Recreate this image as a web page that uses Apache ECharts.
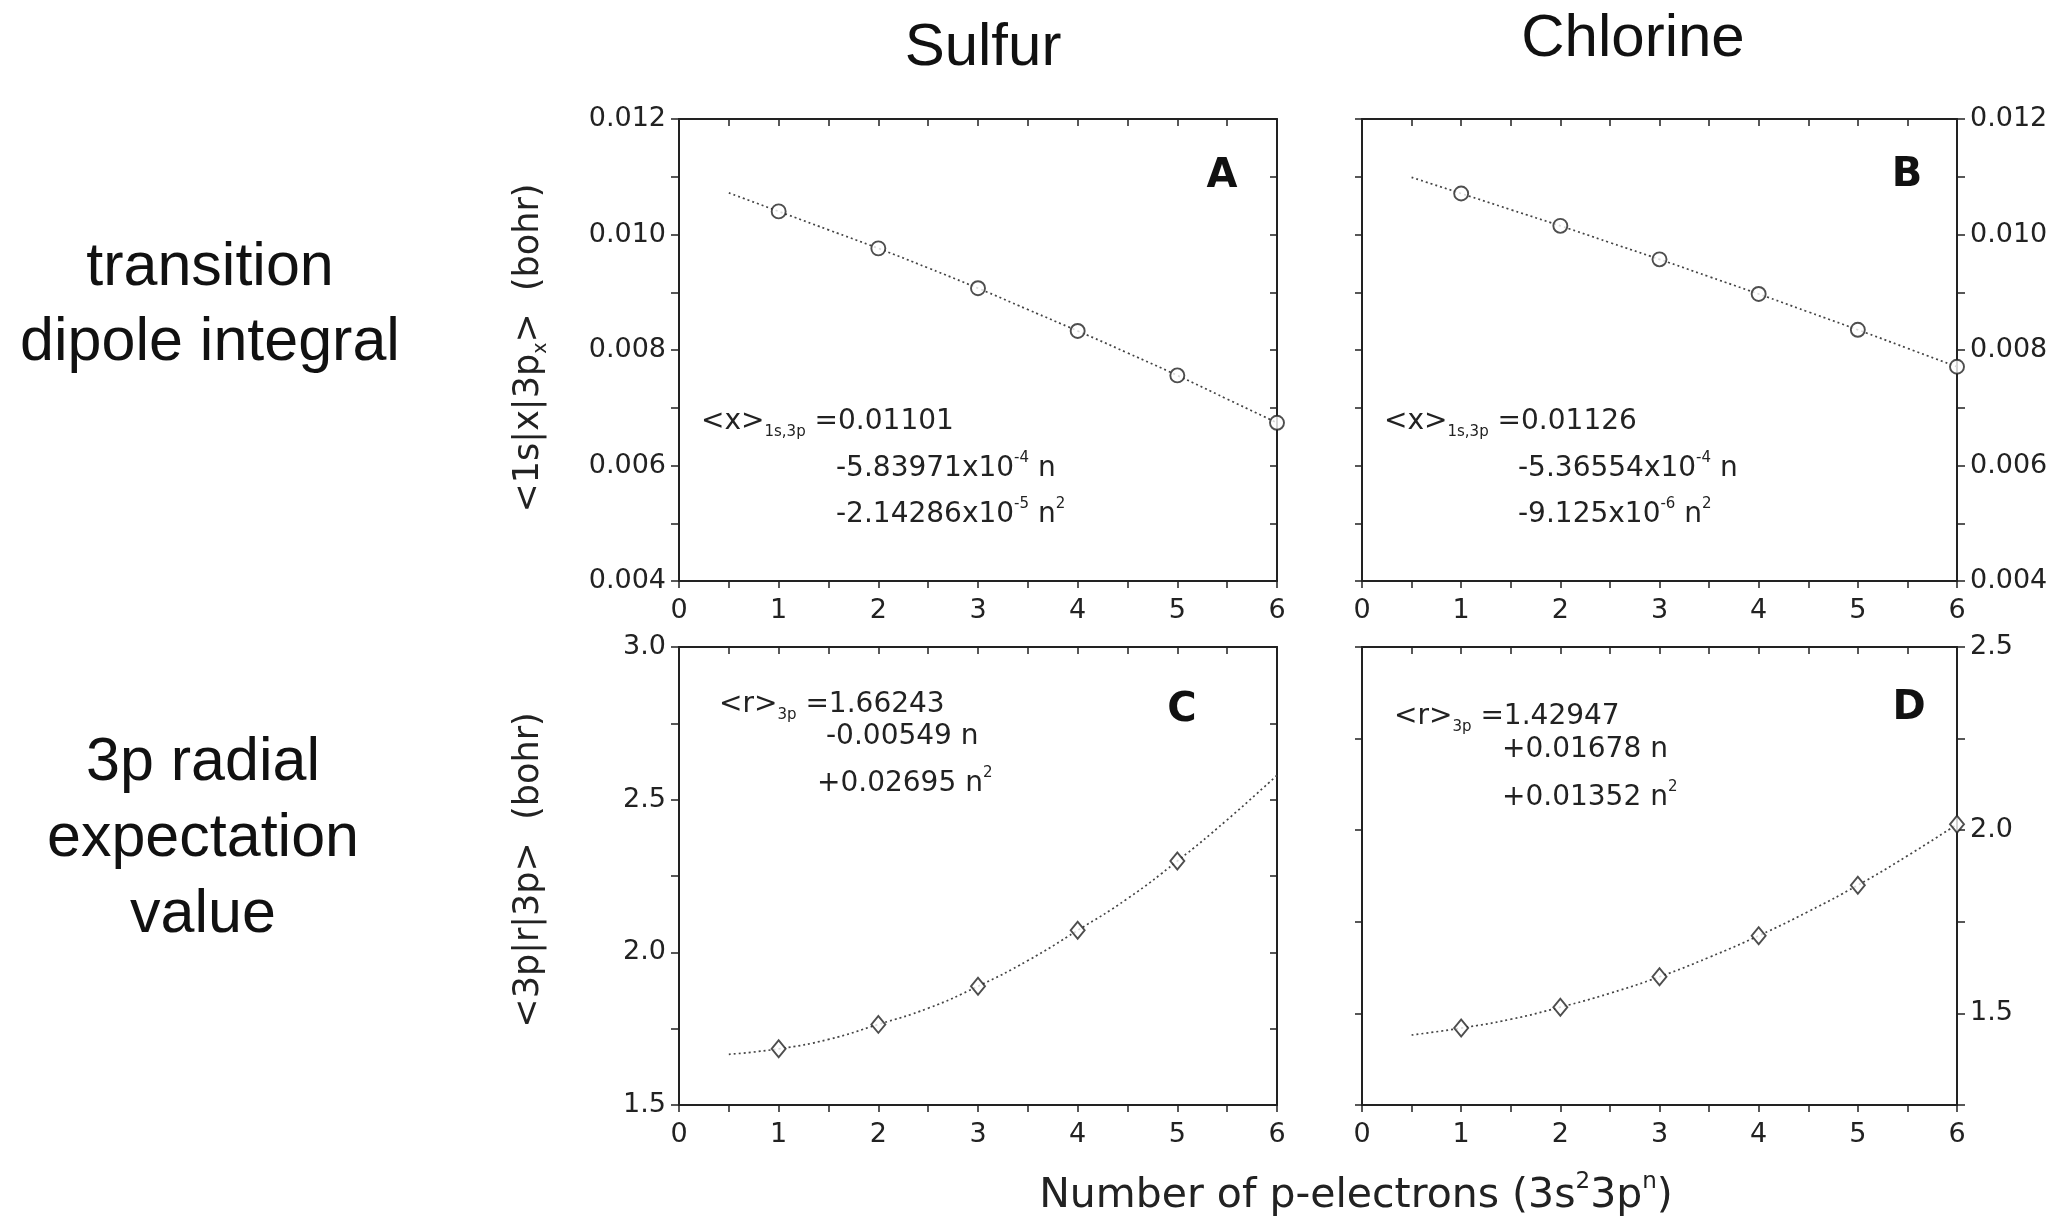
<!DOCTYPE html>
<html>
<head>
<meta charset="utf-8">
<script src="https://cdn.jsdelivr.net/npm/echarts@6/dist/echarts.min.js"></script>
<style>
html, body { margin: 0; padding: 0; background: #fff; }
#main { width: 2055px; height: 1226px; }
</style>
</head>
<body>
<div id="main"></div>
<script>
// values
var nPoints = [1, 2, 3, 4, 5, 6];
var nFit = [0.5, 1, 1.5, 2, 2.5, 3, 3.5, 4, 4.5, 5, 5.5, 6];

var sulfurDipole = [0.01040, 0.00976, 0.00907, 0.00833, 0.00756, 0.00674];
var sulfurDipoleFit = [0.01072, 0.01040, 0.01008, 0.00976, 0.00942, 0.00907, 0.00870, 0.00833, 0.00795, 0.00756, 0.00715, 0.00674];
var chlorineDipole = [0.01071, 0.01015, 0.00957, 0.00897, 0.00835, 0.00771];
var chlorineDipoleFit = [0.01099, 0.01071, 0.01043, 0.01015, 0.00986, 0.00957, 0.00927, 0.00897, 0.00866, 0.00835, 0.00803, 0.00771];
var sulfurRadial = [1.684, 1.764, 1.889, 2.072, 2.299];
var sulfurRadialFit = [1.666, 1.684, 1.715, 1.764, 1.817, 1.889, 1.973, 2.072, 2.176, 2.299, 2.434, 2.580];
var chlorineRadial = [1.460, 1.517, 1.600, 1.712, 1.850, 2.016];
var chlorineRadialFit = [1.441, 1.460, 1.484, 1.517, 1.555, 1.600, 1.653, 1.712, 1.778, 1.850, 1.930, 2.016];

var xTickLabels = ['0', '1', '2', '3', '4', '5', '6'];
var dipoleTickLabels = ['0.004', '0.006', '0.008', '0.010', '0.012'];
var radialTickLabelsS = ['1.5', '2.0', '2.5', '3.0'];
var radialTickLabelsCl = ['1.5', '2.0', '2.5'];

var ink = '#222';
var tickFont = 'DejaVu Sans';

var grids = [
    { left: 679, top: 119, width: 598, height: 462 },
    { left: 1362, top: 119, width: 595, height: 462 },
    { left: 679, top: 647, width: 598, height: 458 },
    { left: 1362, top: 647, width: 595, height: 458 }
];

var yRanges = [
    { min: 0.004, max: 0.012, interval: 0.001, digits: 3, labels: dipoleTickLabels, pos: 'left' },
    { min: 0.004, max: 0.012, interval: 0.001, digits: 3, labels: dipoleTickLabels, pos: 'right' },
    { min: 1.5, max: 3.0, interval: 0.25, digits: 1, labels: radialTickLabelsS, pos: 'left' },
    { min: 1.25, max: 2.5, interval: 0.25, digits: 1, labels: radialTickLabelsCl, pos: 'right' }
];

function pairs(xs, ys) {
    return ys.map(function (y, i) { return [xs[i], y]; });
}

var axisLine = { onZero: false, lineStyle: { color: ink, width: 2 } };

var xAxes = [];
var yAxes = [];
grids.forEach(function (g, i) {
    xAxes.push({
        gridIndex: i, type: 'value', min: 0, max: 6, interval: 0.5, position: 'bottom',
        axisLine: axisLine,
        axisTick: { length: 7, lineStyle: { color: ink, width: 1.5 } },
        axisLabel: {
            margin: 16, fontFamily: tickFont, fontSize: 27, color: ink,
            formatter: function (v) {
                var s = String(v);
                return xTickLabels.indexOf(s) >= 0 ? s : '';
            }
        },
        splitLine: { show: false }
    });
});
grids.forEach(function (g, i) {
    xAxes.push({
        gridIndex: i, type: 'value', min: 0, max: 6, interval: 0.5, position: 'top',
        axisLine: axisLine,
        axisTick: { inside: true, length: 7, lineStyle: { color: ink, width: 1.5 } },
        axisLabel: { show: false },
        splitLine: { show: false }
    });
});
yRanges.forEach(function (r, i) {
    yAxes.push({
        gridIndex: i, type: 'value', min: r.min, max: r.max, interval: r.interval, position: r.pos,
        axisLine: axisLine,
        axisTick: { length: 8, lineStyle: { color: ink, width: 1.5 } },
        axisLabel: {
            margin: 13, fontFamily: tickFont, fontSize: 27, color: ink,
            formatter: function (v) {
                var s = Number(v).toFixed(r.digits);
                return r.labels.indexOf(s) >= 0 ? s : '';
            }
        },
        splitLine: { show: false }
    });
});
yRanges.forEach(function (r, i) {
    yAxes.push({
        gridIndex: i, type: 'value', min: r.min, max: r.max, interval: r.interval,
        position: r.pos === 'left' ? 'right' : 'left',
        axisLine: axisLine,
        axisTick: { inside: r.pos === 'left', length: 7, lineStyle: { color: ink, width: 1.5 } },
        axisLabel: { show: false },
        splitLine: { show: false }
    });
});

function fitSeries(i, ys) {
    return {
        type: 'line', xAxisIndex: i, yAxisIndex: i, smooth: true, showSymbol: false,
        data: pairs(nFit, ys),
        lineStyle: { color: '#444', width: 1.7, type: [2, 3] },
        silent: true, z: 2
    };
}
function pointSeries(i, ys, symbol, size) {
    return {
        type: 'scatter', xAxisIndex: i, yAxisIndex: i, symbol: symbol, symbolSize: size,
        data: pairs(nPoints, ys), clip: false,
        itemStyle: { color: '#fff', borderColor: ink, borderWidth: 1.9 },
        z: 3
    };
}

var series = [
    fitSeries(0, sulfurDipoleFit), pointSeries(0, sulfurDipole, 'circle', 14),
    fitSeries(1, chlorineDipoleFit), pointSeries(1, chlorineDipole, 'circle', 14),
    fitSeries(2, sulfurRadialFit), pointSeries(2, sulfurRadial, 'diamond', [14, 17]),
    fitSeries(3, chlorineRadialFit), pointSeries(3, chlorineRadial, 'diamond', [14, 17])
];

var eqRich = {
    m: { fontFamily: tickFont, fontSize: 28, lineHeight: 36, fill: ink },
    sub: { fontFamily: tickFont, fontSize: 15, lineHeight: 15, fill: ink, verticalAlign: 'bottom' },
    sup: { fontFamily: tickFont, fontSize: 15, lineHeight: 15, fill: ink, verticalAlign: 'top' }
};

function eq(x, y, text) {
    return {
        type: 'text', x: x, y: y,
        style: { text: text, rich: eqRich, textAlign: 'left', textVerticalAlign: 'middle' }
    };
}
function plain(x, y, text, size, family, weight, lineHeight) {
    return {
        type: 'text', x: x, y: y,
        style: {
            text: text, fill: '#111', fontSize: size, fontFamily: family, fontWeight: weight || 'normal',
            lineHeight: lineHeight || size, textAlign: 'center', textVerticalAlign: 'middle'
        }
    };
}

function nameRich(size) {
    var small = Math.round(size * 0.55);
    return {
        m: { fontFamily: tickFont, fontSize: size, lineHeight: size + 9, fill: ink },
        sub: { fontFamily: tickFont, fontSize: small, lineHeight: small, fill: ink, verticalAlign: 'bottom' },
        sup: { fontFamily: tickFont, fontSize: small, lineHeight: small, fill: ink, verticalAlign: 'top' }
    };
}

var graphics = [
    plain(983, 48, 'Sulfur', 60, 'Liberation Sans'),
    plain(1633, 39, 'Chlorine', 60, 'Liberation Sans'),
    plain(210, 306, 'transition\ndipole integral', 61, 'Liberation Sans', 'normal', 75),
    plain(203, 839, '3p radial\nexpectation\nvalue', 61, 'Liberation Sans', 'normal', 76),

    plain(1222, 177, 'A', 40, tickFont, 'bold'),
    plain(1907, 176, 'B', 40, tickFont, 'bold'),
    plain(1182, 711, 'C', 40, tickFont, 'bold'),
    plain(1909, 709, 'D', 40, tickFont, 'bold'),

    {
        type: 'text', x: 529, y: 348, rotation: Math.PI / 2,
        style: { text: '{m|<1s|x|3p}{sub|x}{m|>  (bohr)}', rich: nameRich(35), textAlign: 'center', textVerticalAlign: 'middle' }
    },
    {
        type: 'text', x: 529, y: 870, rotation: Math.PI / 2,
        style: { text: '{m|<3p|r|3p>  (bohr)}', rich: nameRich(35), textAlign: 'center', textVerticalAlign: 'middle' }
    },
    {
        type: 'text', x: 1356, y: 1196,
        style: { text: '{m|Number of p-electrons (3s}{sup|2}{m|3p}{sup|n}{m|)}', rich: nameRich(41), textAlign: 'center', textVerticalAlign: 'middle' }
    },

    eq(701, 422, '{m|<x>}{sub|1s,3p}{m| =0.01101}'),
    eq(836, 469, '{m|-5.83971x10}{sup|-4}{m| n}'),
    eq(836, 515, '{m|-2.14286x10}{sup|-5}{m| n}{sup|2}'),

    eq(1384, 422, '{m|<x>}{sub|1s,3p}{m| =0.01126}'),
    eq(1518, 469, '{m|-5.36554x10}{sup|-4}{m| n}'),
    eq(1518, 515, '{m|-9.125x10}{sup|-6}{m| n}{sup|2}'),

    eq(719, 705, '{m|<r>}{sub|3p}{m| =1.66243}'),
    eq(826, 737, '{m|-0.00549 n}'),
    eq(817, 784, '{m|+0.02695 n}{sup|2}'),

    eq(1394, 717, '{m|<r>}{sub|3p}{m| =1.42947}'),
    eq(1502, 750, '{m|+0.01678 n}'),
    eq(1502, 798, '{m|+0.01352 n}{sup|2}')
];

var chart = echarts.init(document.getElementById('main'));
var option = {
    animation: false,
    backgroundColor: '#fff',
    grid: grids,
    xAxis: xAxes,
    yAxis: yAxes,
    series: series,
    graphic: graphics
};
chart.setOption(option);
</script>
</body>
</html>
